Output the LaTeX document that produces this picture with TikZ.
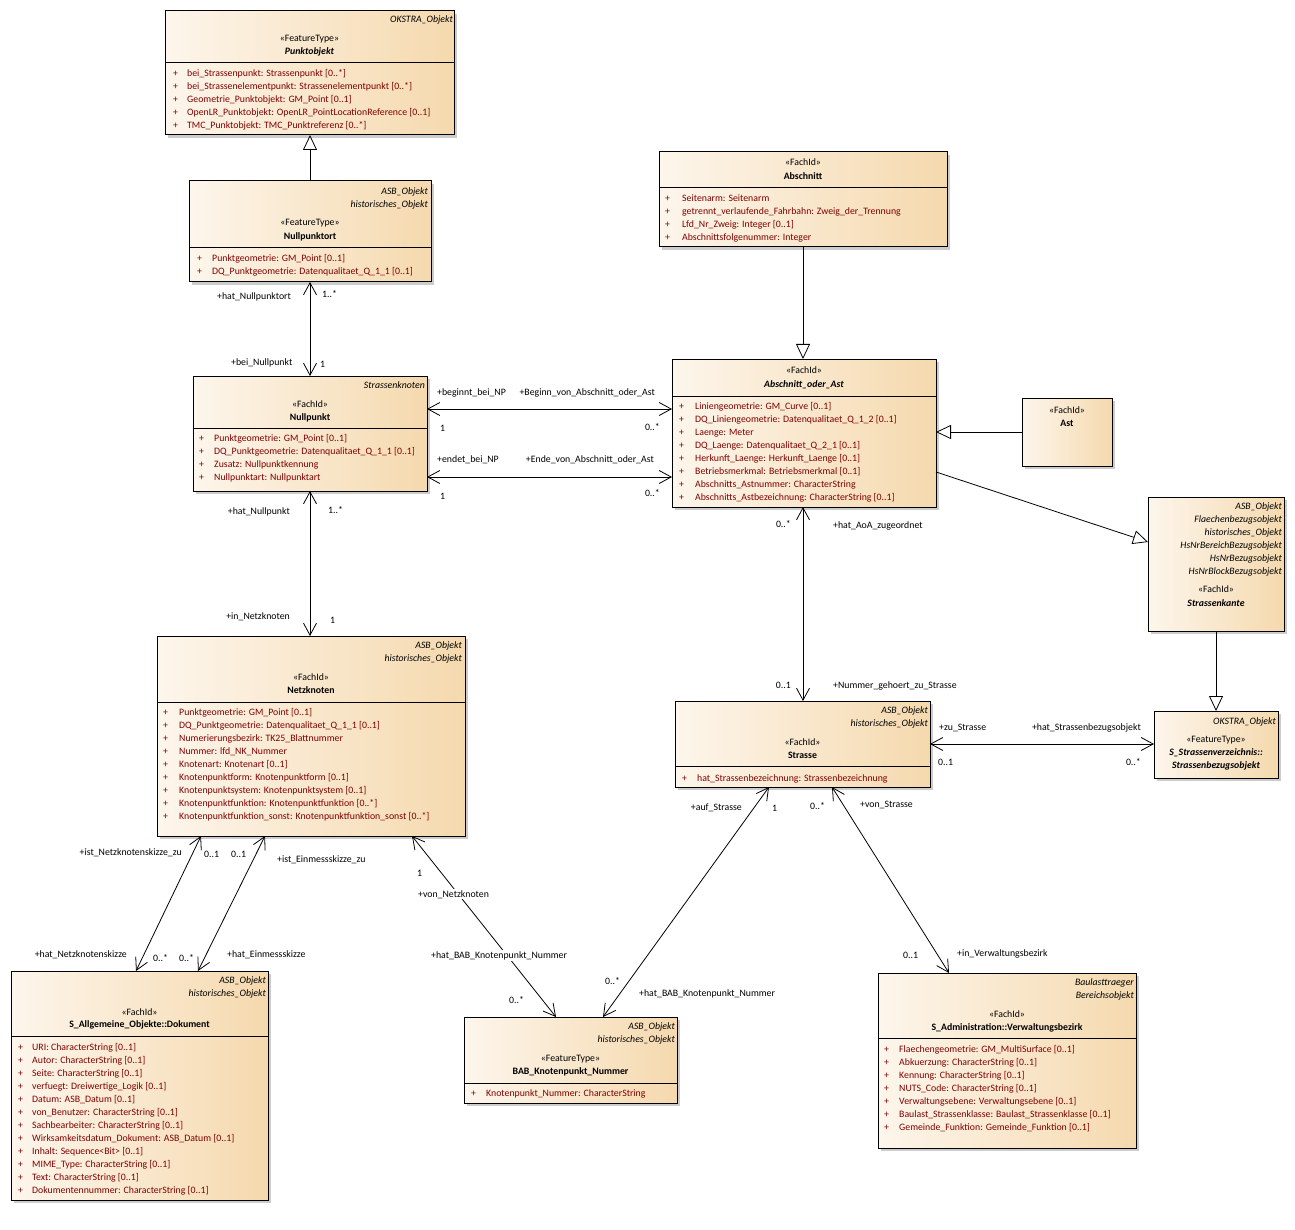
\documentclass[tikz,border=0pt]{standalone}
\usepackage{fontspec}
\newfontfamily\umlf{Carlito}
\usetikzlibrary{arrows.meta,shadows}
\definecolor{boxL}{HTML}{FDF6EC}
\definecolor{boxR}{HTML}{F5D9AE}
\definecolor{attrc}{HTML}{800000}
\newcommand\uf{\umlf\fontsize{9.8}{11}\selectfont}
\tikzset{
  umlbox/.style={draw=black, line width=1pt, left color=boxL, right color=boxR,
    outer sep=0pt, inner sep=0pt,
    drop shadow={shadow xshift=3pt, shadow yshift=-3pt, fill=black!20, opacity=1}},
  rit/.style={inner sep=0pt, font=\uf\itshape, anchor=base east},
  ster/.style={inner sep=0pt, font=\uf, anchor=base},
  cn/.style={inner sep=0pt, font=\uf\bfseries, anchor=base},
  cni/.style={inner sep=0pt, font=\uf\bfseries\itshape, anchor=base},
  attr/.style={inner sep=0pt, font=\uf, text=attrc, anchor=base west},
  lw/.style={inner sep=0pt, font=\uf, anchor=base west},
  le/.style={inner sep=0pt, font=\uf, anchor=base east},
  lwb/.style={lw, fill=white, inner sep=1pt},
  assoc/.style={line width=0.8pt, {Straight Barb[length=12pt,width=13pt]}-{Straight Barb[length=12pt,width=13pt]}},
  gen/.style={line width=0.8pt, -{Triangle[length=15pt,width=14pt,fill=white]}}
}
\newcommand\umlbox[5]{\node[umlbox, minimum width={(#4)-(#2)}, minimum height={(#5)-(#3)}] (#1) at ({((#2)+(#4))/2},{((#3)+(#5))/2}) {};}
\newcommand\dvd[2]{\draw[line width=1pt] (#1.west |- 0,#2) -- (#1.east |- 0,#2);}
\newcommand\attrs[5]{\foreach[count=\i from 0] \a in {#5}{\node[attr] (#1-a\i) at (#2,{#4+13*\i+3}) {\makebox[\dimexpr #3pt-#2pt\relax][l]{+}\a};}}
\begin{document}
\begin{tikzpicture}[x=1pt,y=-1pt]
\fill[white] (0,0) rectangle (1295,1230);
\useasboundingbox (0,0) rectangle (1295,1230);

% ---------- boxes
\umlbox{punktobjekt}{165}{11}{454}{135}
\umlbox{nullpunktort}{189}{181}{431}{282}
\umlbox{nullpunkt}{193}{376}{427}{491}
\umlbox{abschnitt}{659}{152}{947}{247}
\umlbox{aoa}{672}{359}{936}{507}
\umlbox{ast}{1022}{398}{1112}{466}
\umlbox{strassenkante}{1148}{497}{1284}{631}
\umlbox{netzknoten}{157}{636}{465}{836}
\umlbox{strasse}{675}{701}{930}{787}
\umlbox{sbo}{1154}{711}{1278}{778}
\umlbox{dokument}{11}{971}{268}{1200}
\umlbox{bab}{464}{1017}{677}{1103}
\umlbox{vwb}{878}{973}{1136}{1148}

% ---------- Punktobjekt
\node[rit] (po-s1) at (453,23) {OKSTRA\_Objekt};
\node[ster] (po-st) at (punktobjekt.center |- 0,42) {«FeatureType»};
\node[cni] (po-n) at (punktobjekt.center |- 0,55) {Punktobjekt};
\dvd{punktobjekt}{63}
\attrs{po}{173}{187}{74}{{bei\_Strassenpunkt: Strassenpunkt [0..*]},{bei\_Strassenelementpunkt: Strassenelementpunkt [0..*]},{Geometrie\_Punktobjekt: GM\_Point [0..1]},{OpenLR\_Punktobjekt: OpenLR\_PointLocationReference [0..1]},{TMC\_Punktobjekt: TMC\_Punktreferenz [0..*]}}

% ---------- Nullpunktort
\node[rit] (npo-s1) at (428,195) {ASB\_Objekt};
\node[rit] (npo-s2) at (428,208) {historisches\_Objekt};
\node[ster] (npo-st) at (nullpunktort.center |- 0,226) {«FeatureType»};
\node[cn] (npo-n) at (nullpunktort.center |- 0,240) {Nullpunktort};
\dvd{nullpunktort}{248}
\attrs{npo}{197}{212}{259}{{Punktgeometrie: GM\_Point [0..1]},{DQ\_Punktgeometrie: Datenqualitaet\_Q\_1\_1 [0..1]}}

% ---------- Nullpunkt
\node[rit] (np-s1) at (425,388) {Strassenknoten};
\node[ster] (np-st) at (nullpunkt.center |- 0,407) {«FachId»};
\node[cn] (np-n) at (nullpunkt.center |- 0,420) {Nullpunkt};
\dvd{nullpunkt}{428}
\attrs{np}{199}{214}{438}{{Punktgeometrie: GM\_Point [0..1]},{DQ\_Punktgeometrie: Datenqualitaet\_Q\_1\_1 [0..1]},{Zusatz: Nullpunktkennung},{Nullpunktart: Nullpunktart}}

% ---------- Abschnitt
\node[ster] (ab-st) at (abschnitt.center |- 0,166) {«FachId»};
\node[cn] (ab-n) at (abschnitt.center |- 0,180) {Abschnitt};
\dvd{abschnitt}{188}
\attrs{ab}{665}{682}{199}{{Seitenarm: Seitenarm},{getrennt\_verlaufende\_Fahrbahn: Zweig\_der\_Trennung},{Lfd\_Nr\_Zweig: Integer [0..1]},{Abschnittsfolgenummer: Integer}}

% ---------- Abschnitt_oder_Ast
\node[ster] (aoa-st) at (aoa.center |- 0,373) {«FachId»};
\node[cni] (aoa-n) at (aoa.center |- 0,387) {Abschnitt\_oder\_Ast};
\dvd{aoa}{396}
\attrs{aoa}{679}{695}{406}{{Liniengeometrie: GM\_Curve [0..1]},{DQ\_Liniengeometrie: Datenqualitaet\_Q\_1\_2 [0..1]},{Laenge: Meter},{DQ\_Laenge: Datenqualitaet\_Q\_2\_1 [0..1]},{Herkunft\_Laenge: Herkunft\_Laenge [0..1]},{Betriebsmerkmal: Betriebsmerkmal [0..1]},{Abschnitts\_Astnummer: CharacterString},{Abschnitts\_Astbezeichnung: CharacterString [0..1]}}

% ---------- Ast
\node[ster] (ast-st) at (ast.center |- 0,413) {«FachId»};
\node[cn] (ast-n) at (ast.center |- 0,426) {Ast};

% ---------- Strassenkante
\node[rit] (sk-s1) at (1282,509) {ASB\_Objekt};
\node[rit] (sk-s2) at (1282,522) {Flaechenbezugsobjekt};
\node[rit] (sk-s3) at (1282,535) {historisches\_Objekt};
\node[rit] (sk-s4) at (1282,548) {HsNrBereichBezugsobjekt};
\node[rit] (sk-s5) at (1282,561) {HsNrBezugsobjekt};
\node[rit] (sk-s6) at (1282,574) {HsNrBlockBezugsobjekt};
\node[ster] (sk-st) at (strassenkante.center |- 0,592) {«FachId»};
\node[cni] (sk-n) at (strassenkante.center |- 0,606) {Strassenkante};

% ---------- Netzknoten
\node[rit] (nk-s1) at (462,648) {ASB\_Objekt};
\node[rit] (nk-s2) at (462,661) {historisches\_Objekt};
\node[ster] (nk-st) at (netzknoten.center |- 0,680) {«FachId»};
\node[cn] (nk-n) at (netzknoten.center |- 0,693) {Netzknoten};
\dvd{netzknoten}{702}
\attrs{nk}{163}{179}{712}{{Punktgeometrie: GM\_Point [0..1]},{DQ\_Punktgeometrie: Datenqualitaet\_Q\_1\_1 [0..1]},{Numerierungsbezirk: TK25\_Blattnummer},{Nummer: lfd\_NK\_Nummer},{Knotenart: Knotenart [0..1]},{Knotenpunktform: Knotenpunktform [0..1]},{Knotenpunktsystem: Knotenpunktsystem [0..1]},{Knotenpunktfunktion: Knotenpunktfunktion [0..*]},{Knotenpunktfunktion\_sonst: Knotenpunktfunktion\_sonst [0..*]}}

% ---------- Strasse
\node[rit] (st-s1) at (928,713) {ASB\_Objekt};
\node[rit] (st-s2) at (928,726) {historisches\_Objekt};
\node[ster] (st-st) at (strasse.center |- 0,745) {«FachId»};
\node[cn] (st-n) at (strasse.center |- 0,758) {Strasse};
\dvd{strasse}{766}
\attrs{st}{682}{697}{778}{{hat\_Strassenbezeichnung: Strassenbezeichnung}}

% ---------- Strassenbezugsobjekt
\node[rit] (sbo-s1) at (1276,724) {OKSTRA\_Objekt};
\node[ster] (sbo-st) at (sbo.center |- 0,742) {«FeatureType»};
\node[cni] (sbo-n1) at (sbo.center |- 0,755) {S\_Strassenverzeichnis::};
\node[cni] (sbo-n2) at (sbo.center |- 0,768) {Strassenbezugsobjekt};

% ---------- Dokument
\node[rit] (dk-s1) at (266,983) {ASB\_Objekt};
\node[rit] (dk-s2) at (266,996) {historisches\_Objekt};
\node[ster] (dk-st) at (dokument.center |- 0,1015) {«FachId»};
\node[cn] (dk-n) at (dokument.center |- 0,1027) {S\_Allgemeine\_Objekte::Dokument};
\dvd{dokument}{1036}
\attrs{dk}{18}{32}{1047}{{URI: CharacterString [0..1]},{Autor: CharacterString [0..1]},{Seite: CharacterString [0..1]},{verfuegt: Dreiwertige\_Logik [0..1]},{Datum: ASB\_Datum [0..1]},{von\_Benutzer: CharacterString [0..1]},{Sachbearbeiter: CharacterString [0..1]},{Wirksamkeitsdatum\_Dokument: ASB\_Datum [0..1]},{Inhalt: Sequence<Bit> [0..1]},{MIME\_Type: CharacterString [0..1]},{Text: CharacterString [0..1]},{Dokumentennummer: CharacterString [0..1]}}

% ---------- BAB_Knotenpunkt_Nummer
\node[rit] (bab-s1) at (675,1029) {ASB\_Objekt};
\node[rit] (bab-s2) at (675,1042) {historisches\_Objekt};
\node[ster] (bab-st) at (bab.center |- 0,1061) {«FeatureType»};
\node[cn] (bab-n) at (bab.center |- 0,1074) {BAB\_Knotenpunkt\_Nummer};
\dvd{bab}{1083}
\attrs{bab}{471}{486}{1093}{{Knotenpunkt\_Nummer: CharacterString}}

% ---------- Verwaltungsbezirk
\node[rit] (vw-s1) at (1134,985) {Baulasttraeger};
\node[rit] (vw-s2) at (1134,998) {Bereichsobjekt};
\node[ster] (vw-st) at (vwb.center |- 0,1017) {«FachId»};
\node[cn] (vw-n) at (vwb.center |- 0,1030) {S\_Administration::Verwaltungsbezirk};
\dvd{vwb}{1038}
\attrs{vw}{884}{899}{1049}{{Flaechengeometrie: GM\_MultiSurface [0..1]},{Abkuerzung: CharacterString [0..1]},{Kennung: CharacterString [0..1]},{NUTS\_Code: CharacterString [0..1]},{Verwaltungsebene: Verwaltungsebene [0..1]},{Baulast\_Strassenklasse: Baulast\_Strassenklasse [0..1]},{Gemeinde\_Funktion: Gemeinde\_Funktion [0..1]}}

% ---------- connectors
\draw[gen] (nullpunktort.north -| 310,0) -- (punktobjekt.south -| 310,0);
\draw[assoc] (nullpunktort.south -| 310,0) -- (nullpunkt.north -| 310,0);
\draw[assoc] (nullpunkt.east |- 0,409) -- (aoa.west |- 0,409);
\draw[assoc] (nullpunkt.east |- 0,477) -- (aoa.west |- 0,477);
\draw[gen] (abschnitt.south -| 803,0) -- (aoa.north -| 803,0);
\draw[gen] (ast.west |- 0,432) -- (aoa.east |- 0,432);
\draw[gen] (aoa.east |- 0,472) -- (strassenkante.west |- 0,542);
\draw[gen] (strassenkante.south -| 1216,0) -- (sbo.north -| 1216,0);
\draw[assoc] (aoa.south -| 803,0) -- (strasse.north -| 803,0);
\draw[assoc] (nullpunkt.south -| 310,0) -- (netzknoten.north -| 310,0);
\draw[assoc] (strasse.east |- 0,744) -- (sbo.west |- 0,744);
\draw[assoc] (netzknoten.south -| 201,0) -- (dokument.north -| 136,0);
\draw[assoc] (netzknoten.south -| 265,0) -- (dokument.north -| 198,0);
\draw[assoc] (netzknoten.south -| 412,0) -- (bab.north -| 556,0);
\draw[assoc] (strasse.south -| 769,0) -- (bab.north -| 603,0);
\draw[assoc] (strasse.south -| 832,0) -- (vwb.north -| 949,0);

% ---------- connector labels
\node[lw] (l1) at (217,300) {+hat\_Nullpunktort};
\node[lw] (l2) at (322,298) {1..*};
\node[lw] (l3) at (231,366) {+bei\_Nullpunkt};
\node[lw] (l4) at (320,367) {1};

\node[lw] (l5) at (437,395) {+beginnt\_bei\_NP};
\node[le] (l6) at (655,395) {+Beginn\_von\_Abschnitt\_oder\_Ast};
\node[lw] (l7) at (440,431) {1};
\node[le] (l8) at (660,430) {0..*};
\node[lw] (l9) at (437,462) {+endet\_bei\_NP};
\node[le] (l10) at (654,462) {+Ende\_von\_Abschnitt\_oder\_Ast};
\node[lw] (l11) at (440,499) {1};
\node[le] (l12) at (660,496) {0..*};

\node[le] (l13) at (791,527) {0..*};
\node[lw] (l14) at (833,528) {+hat\_AoA\_zugeordnet};
\node[le] (l15) at (791,688) {0..1};
\node[lw] (l16) at (833,688) {+Nummer\_gehoert\_zu\_Strasse};

\node[le] (l17) at (290,514) {+hat\_Nullpunkt};
\node[lw] (l18) at (328,513) {1..*};
\node[le] (l19) at (290,619) {+in\_Netzknoten};
\node[lw] (l20) at (330,623) {1};

\node[lw] (l21) at (939,730) {+zu\_Strasse};
\node[le] (l22) at (1141,730) {+hat\_Strassenbezugsobjekt};
\node[lw] (l23) at (938,765) {0..1};
\node[le] (l24) at (1141,765) {0..*};

\node[le] (l25) at (182,855) {+ist\_Netzknotenskizze\_zu};
\node[lw] (l26) at (204,857) {0..1};
\node[lw] (l27) at (231,857) {0..1};
\node[lw] (l28) at (277,862) {+ist\_Einmessskizze\_zu};
\node[le] (l29) at (127,957) {+hat\_Netzknotenskizze};
\node[lw] (l30) at (153,961) {0..*};
\node[lw] (l31) at (179,961) {0..*};
\node[lw] (l32) at (227,957) {+hat\_Einmessskizze};

\node[lw] (l33) at (417,876) {1};
\node[lwb] (l34) at (417,897) {+von\_Netzknoten};
\node[lwb] (l35) at (430,958) {+hat\_BAB\_Knotenpunkt\_Nummer};
\node[lw] (l36) at (509,1003) {0..*};

\node[le] (l37) at (742,810) {+auf\_Strasse};
\node[lw] (l38) at (772,811) {1};
\node[lw] (l39) at (605,984) {0..*};
\node[lw] (l40) at (639,996) {+hat\_BAB\_Knotenpunkt\_Nummer};

\node[lw] (l41) at (810,809) {0..*};
\node[lw] (l42) at (860,807) {+von\_Strasse};
\node[lw] (l43) at (903,958) {0..1};
\node[lw] (l44) at (957,956) {+in\_Verwaltungsbezirk};
\end{tikzpicture}
\end{document}
